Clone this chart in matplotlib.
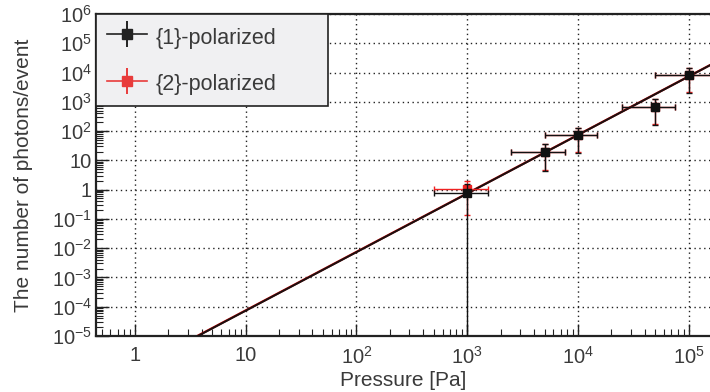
import matplotlib.pyplot as plt
import matplotlib.ticker as mticker
from matplotlib.lines import Line2D
from matplotlib.legend_handler import HandlerTuple
import numpy as np

plt.rcParams['font.family'] = ['Liberation Sans', 'DejaVu Sans']
plt.rcParams['mathtext.fontset'] = 'custom'
plt.rcParams['mathtext.rm'] = 'Liberation Sans'
plt.rcParams['mathtext.it'] = 'Liberation Sans'

# measured points
pressure = [1e3, 5e3, 1e4, 5e4, 1e5]
p_lo = [500, 2500, 5000, 25000, 50000]
p_hi = [1550, 7600, 15000, 76000, 160000]

black_n = [0.76, 19, 72, 660, 8000]
black_lo = [1e-7, 4.3, 18, 160, 2000]
black_hi = [1.55, 35, 126, 1230, 14000]

red_n = [1.05, 20, 75, 680, 8300]
red_lo = [0.14, 4.6, 19, 170, 2100]
red_hi = [1.9, 37, 130, 1280, 14500]

# fitted lines (end points)
fit_x = [0.3, 2e5]
black_fit = [6.6e-8, 2.92e4]
red_fit = [6.8e-8, 2.95e4]

labels = ["{1}-polarized", "{2}-polarized"]

txt = '#3a3a3a'
dark = '#222222'

fig = plt.figure(figsize=(7.1, 3.92), dpi=100)
ax = fig.add_axes([96 / 710, 56 / 392, 614 / 710, 322 / 392])

ax.plot(fit_x, red_fit, color='#c00000', lw=1.6, zorder=2)
ax.plot(fit_x, black_fit, color='#1a1010', lw=1.4, zorder=3)


def draw(n, lo, hi, color, z):
    n = np.array(n)
    yerr = [n - np.array(lo), np.array(hi) - n]
    xerr = [np.array(pressure) - np.array(p_lo), np.array(p_hi) - np.array(pressure)]
    ax.errorbar(pressure, n, xerr=xerr, yerr=yerr, fmt='s', ms=5.5,
                color=color, ecolor=color, elinewidth=1.0, capsize=2.5,
                capthick=1.0, zorder=z)


draw(red_n, red_lo, red_hi, '#ee2222', 4)
draw(black_n, black_lo, black_hi, '#111111', 5)

ax.set_xscale('log')
ax.set_yscale('log')
ax.set_xlim(0.444, 1.56e5)
ax.set_ylim(1e-5, 1e6)

ax.xaxis.set_major_locator(mticker.LogLocator(base=10, numticks=20))
ax.yaxis.set_major_locator(mticker.LogLocator(base=10, numticks=20))
ax.xaxis.set_minor_locator(mticker.LogLocator(base=10, subs=np.arange(2, 10), numticks=20))
ax.yaxis.set_minor_locator(mticker.LogLocator(base=10, subs=np.arange(2, 10), numticks=20))


def fmt(v, pos):
    e = int(round(np.log10(v)))
    if e == 0:
        return '1'
    if e == 1:
        return '10'
    return '$10^{%s}$' % (str(e).replace('-', '\u2212'))


ax.xaxis.set_major_formatter(mticker.FuncFormatter(fmt))
ax.yaxis.set_major_formatter(mticker.FuncFormatter(fmt))
ax.xaxis.set_minor_formatter(mticker.NullFormatter())

ax.tick_params(which='both', direction='in', colors=dark, labelcolor=txt,
               labelsize=14.5, top=False, right=False)
ax.tick_params(which='major', length=9, width=1.0)
ax.tick_params(which='minor', length=5, width=0.8)
ax.tick_params(axis='x', pad=7)
ax.tick_params(axis='y', pad=3)

ax.grid(True, which='major', linestyle=(0, (1, 2.5)), color=dark, lw=1.0)

for s in ['left', 'bottom', 'top']:
    ax.spines[s].set_linewidth(1.6)
    ax.spines[s].set_color(dark)
ax.spines['right'].set_visible(False)

ax.set_xlabel('Pressure [Pa]', fontsize=15, color=txt)
ax.xaxis.set_label_coords(0.5, -0.108)
ax.set_ylabel('The number of photons/event', fontsize=15, color=txt)
ax.yaxis.set_label_coords(-0.103, 0.5)

handles = []
for c in ['#222222', '#e83b3b']:
    hl = Line2D([], [], color=c, lw=1.2, marker='s', ms=6.5)
    vl = Line2D([], [], color=c, lw=0, marker='|', ms=19, markeredgewidth=1.4)
    handles.append((hl, vl))

leg = ax.legend(handles, labels, loc='upper left', bbox_to_anchor=(0, 0, 232 / 614, 1),
                mode='expand',
                handler_map={tuple: HandlerTuple(ndivide=1)},
                fontsize=15.5, frameon=True, fancybox=False, borderaxespad=0,
                handlelength=1.87, handleheight=1.3, labelspacing=1.05,
                borderpad=0.5, handletextpad=0.42)
leg.get_frame().set_facecolor('#f0f0f2')
leg.get_frame().set_edgecolor(dark)
leg.get_frame().set_linewidth(1.2)
leg.get_frame().set_alpha(1)
for t in leg.get_texts():
    t.set_color(txt)

fig.savefig('out.png', dpi=100)
